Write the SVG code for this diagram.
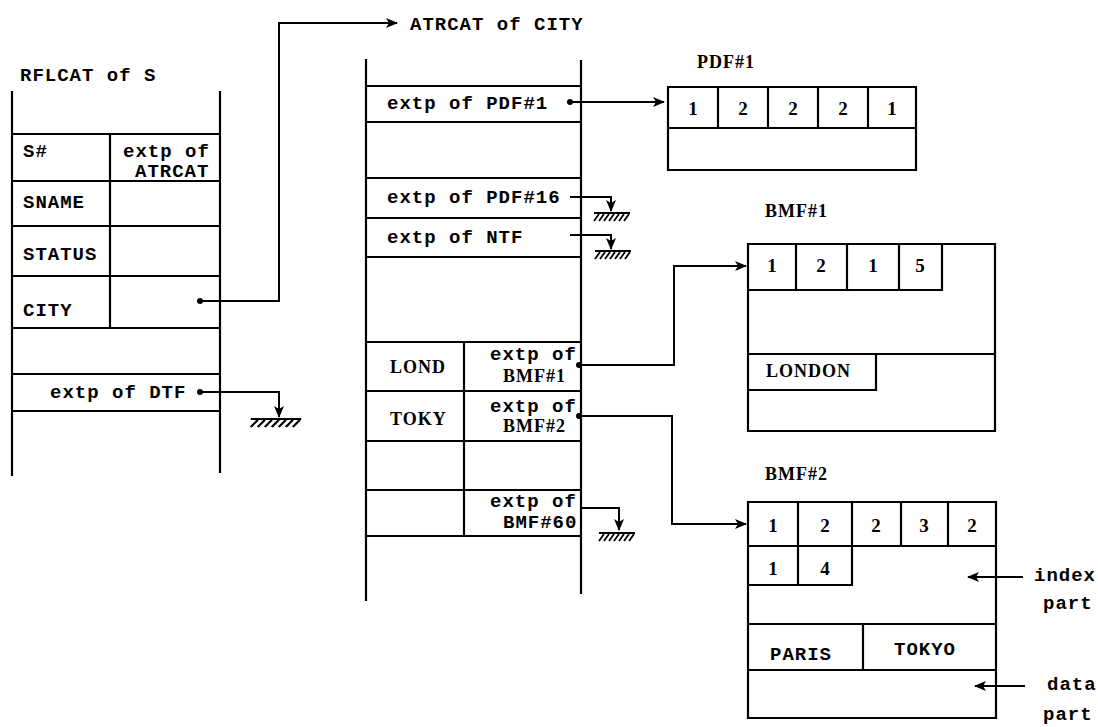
<svg xmlns="http://www.w3.org/2000/svg" width="1098" height="727" viewBox="0 0 1098 727">
<defs>
<style>
.ln{stroke:#000;stroke-width:2.2;fill:none;stroke-linecap:square}
.cn{stroke:#000;stroke-width:2;fill:none}
.t{font-family:"Liberation Mono",monospace;font-weight:bold;font-size:19px;letter-spacing:1px;fill:#000}
.s{font-family:"Liberation Serif",serif;font-weight:bold;font-size:18px;letter-spacing:1px;fill:#000}
.n{font-family:"Liberation Serif",serif;font-weight:bold;font-size:19px;fill:#000;text-anchor:middle}
.dot{fill:#000}
</style>
<marker id="ah" viewBox="0 0 12 10" refX="11" refY="5" markerWidth="12" markerHeight="10" markerUnits="userSpaceOnUse" orient="auto">
<path d="M0,0 L12,5 L0,10 L3,5 Z" fill="#000"/>
</marker>
<g id="gnd">
<line x1="-18" y1="0" x2="18" y2="0" stroke="#000" stroke-width="2.2"/>
<path d="M-13,1 L-18,8 M-8,1 L-13,8 M-3,1 L-8,8 M2,1 L-3,8 M7,1 L2,8 M12,1 L7,8 M17,1 L12,8" stroke="#000" stroke-width="1.8"/>
</g>
</defs>
<rect width="1098" height="727" fill="#fff"/>

<g id="relcat">
<text class="t" x="20" y="81">RFLCAT of S</text>
<path class="ln" d="M12,92 V475 M220,92 V472 M12,134 H220 M12,181 H220 M12,226 H220 M12,276 H220 M12,328 H220 M12,374 H220 M12,411 H220 M110,134 V328"/>
<text class="t" x="23" y="157">S#</text>
<text class="t" x="123" y="157">extp of</text>
<text class="t" x="135" y="177">ATRCAT</text>
<text class="t" x="23" y="208">SNAME</text>
<text class="t" x="23" y="260">STATUS</text>
<text class="t" x="23" y="316">CITY</text>
<text class="t" x="50" y="398">extp of DTF</text>
</g>

<g id="atrcat">
<text class="t" x="410" y="30">ATRCAT of CITY</text>
<path class="ln" d="M366,60 V600 M581,61 V593 M366,86 H581 M366,122 H581 M366,178 H581 M366,218 H581 M366,257 H581 M366,342 H581 M366,391 H581 M366,441 H581 M366,490 H581 M366,536 H581 M464,342 V536"/>
<text class="t" x="387" y="109">extp of PDF#1</text>
<text class="t" x="387" y="203">extp of PDF#16</text>
<text class="t" x="387" y="243">extp of NTF</text>
<text class="s" x="390" y="373">LOND</text>
<text class="t" x="490" y="360">extp of</text>
<text class="s" x="503" y="382">BMF#1</text>
<text class="s" x="390" y="425">TOKY</text>
<text class="t" x="490" y="412">extp of</text>
<text class="s" x="503" y="432">BMF#2</text>
<text class="t" x="490" y="507">extp of</text>
<text class="t" x="503" y="528">BMF#60</text>
</g>

<g id="pdf1">
<text class="s" x="697" y="68">PDF#1</text>
<path class="ln" d="M668,87 H916 V170 H668 Z M668,128 H916 M718,87 V128 M768,87 V128 M818,87 V128 M868,87 V128"/>
<text class="n" x="693" y="115">1</text>
<text class="n" x="743" y="115">2</text>
<text class="n" x="793" y="115">2</text>
<text class="n" x="843" y="115">2</text>
<text class="n" x="892" y="115">1</text>
</g>

<g id="bmf1">
<text class="s" x="765" y="217">BMF#1</text>
<path class="ln" d="M748,244 H995 V431 H748 Z M748,290 H942 V244 M796,244 V290 M847,244 V290 M899,244 V290 M748,354 H995 M876,354 V390 H748"/>
<text class="n" x="772" y="272">1</text>
<text class="n" x="821" y="272">2</text>
<text class="n" x="873" y="272">1</text>
<text class="n" x="920" y="272">5</text>
<text class="s" x="766" y="377">LONDON</text>
</g>

<g id="bmf2">
<text class="s" x="765" y="480">BMF#2</text>
<path class="ln" d="M748,502 H996 V718 H748 Z M748,546 H996 M798,502 V585 M852,502 V585 M901,502 V546 M948,502 V546 M748,585 H852 M748,624 H996 M748,670 H996 M863,624 V670"/>
<text class="n" x="773" y="532">1</text>
<text class="n" x="825" y="532">2</text>
<text class="n" x="876" y="532">2</text>
<text class="n" x="924" y="532">3</text>
<text class="n" x="972" y="532">2</text>
<text class="n" x="773" y="575">1</text>
<text class="n" x="825" y="575">4</text>
<text class="t" x="770" y="660">PARIS</text>
<text class="t" x="894" y="655">TOKYO</text>
</g>

<g id="notes">
<text class="t" x="1034" y="581">index</text>
<text class="t" x="1043" y="609">part</text>
<text class="t" x="1047" y="690">data</text>
<text class="t" x="1043" y="720">part</text>
</g>

<g id="connectors">
<circle class="dot" cx="200" cy="301" r="3"/>
<path class="cn" d="M200,301 H279 V23 H397" marker-end="url(#ah)"/>
<circle class="dot" cx="200" cy="392" r="3"/>
<path class="cn" d="M200,392 H279 V417" marker-end="url(#ah)"/>
<use href="#gnd" transform="translate(276,419) scale(1.4,1)"/>
<circle class="dot" cx="570" cy="102" r="3"/>
<path class="cn" d="M570,102 H664" marker-end="url(#ah)"/>
<path class="cn" d="M570,197 H611 V211" marker-end="url(#ah)"/>
<use href="#gnd" x="612" y="213"/>
<path class="cn" d="M570,235 H611 V249" marker-end="url(#ah)"/>
<use href="#gnd" x="613" y="251"/>
<circle class="dot" cx="579" cy="365" r="3"/>
<path class="cn" d="M579,365 H674 V266 H746" marker-end="url(#ah)"/>
<circle class="dot" cx="579" cy="416" r="3"/>
<path class="cn" d="M579,416 H672 V524 H746" marker-end="url(#ah)"/>
<path class="cn" d="M581,508 H619 V530" marker-end="url(#ah)"/>
<use href="#gnd" x="617" y="533"/>
<path class="cn" d="M1023,577 H968" marker-end="url(#ah)"/>
<path class="cn" d="M1025,686 H975" marker-end="url(#ah)"/>
</g>
</svg>
